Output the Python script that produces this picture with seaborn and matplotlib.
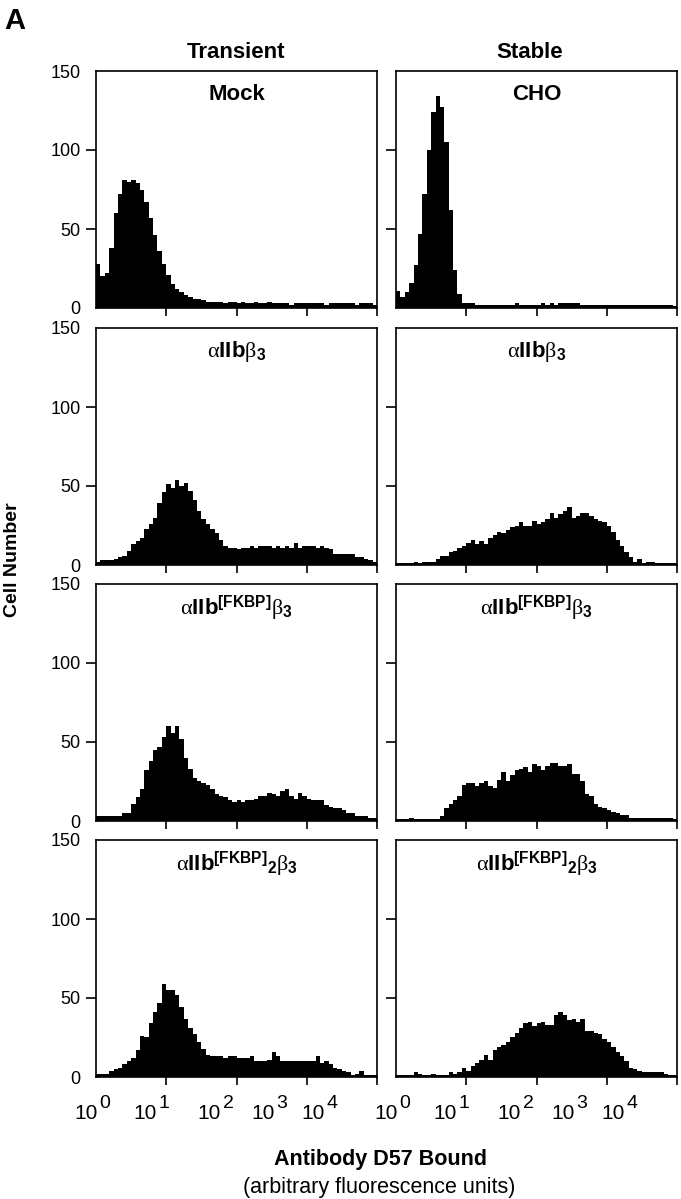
import numpy as np
import pandas as pd
import matplotlib
matplotlib.use("Agg")
import matplotlib.pyplot as plt
import seaborn as sns

# ---- data: cell counts per channel, 64 log-spaced channels over 10^0..10^4 ----
mock_transient = [28, 20, 22, 38, 60, 72, 81, 80, 81, 79,
                  75, 67, 57, 46, 36, 28, 21, 15, 12, 10,
                  8, 7, 6, 6, 5, 4, 4, 4, 4, 3,
                  4, 4, 3, 4, 3, 3, 4, 3, 3, 4,
                  3, 3, 3, 3, 2, 3, 3, 3, 3, 3,
                  3, 3, 2, 3, 3, 3, 3, 3, 3, 2,
                  3, 3, 3, 2]
cho_stable = [11, 7, 10, 16, 27, 47, 72, 100, 124, 134,
              127, 105, 62, 24, 9, 3, 3, 3, 2, 2,
              2, 2, 2, 2, 2, 2, 2, 3, 2, 2,
              2, 2, 2, 3, 2, 3, 2, 3, 3, 3,
              3, 3, 2, 2, 2, 2, 2, 2, 2, 2,
              2, 2, 2, 2, 2, 2, 2, 2, 2, 2,
              2, 2, 2, 1]
a2b3_transient = [2, 3, 3, 3, 4, 5, 6, 9, 13, 15,
                  17, 23, 26, 30, 39, 46, 51, 49, 54, 50,
                  52, 47, 41, 34, 29, 26, 23, 20, 16, 12,
                  11, 11, 10, 11, 11, 12, 11, 12, 12, 12,
                  11, 12, 11, 12, 11, 14, 11, 12, 12, 12,
                  11, 12, 11, 10, 7, 7, 7, 7, 7, 5,
                  5, 4, 3, 2]
a2b3_stable = [1, 1, 1, 1, 2, 1, 2, 2, 2, 4,
               6, 6, 8, 9, 11, 12, 14, 16, 13, 15,
               13, 17, 19, 21, 20, 22, 24, 25, 27, 25,
               25, 28, 26, 27, 29, 33, 30, 32, 34, 37,
               30, 31, 33, 33, 31, 29, 28, 27, 25, 21,
               16, 12, 8, 5, 2, 4, 1, 2, 2, 1,
               1, 1, 1, 1]
fkbp_transient = [3, 3, 3, 3, 3, 3, 5, 5, 11, 15,
                  20, 32, 38, 45, 47, 53, 60, 56, 60, 52,
                  40, 33, 27, 25, 24, 23, 20, 17, 16, 15,
                  13, 12, 13, 12, 13, 13, 14, 16, 16, 18,
                  17, 16, 19, 20, 16, 14, 18, 16, 14, 13,
                  13, 13, 10, 9, 8, 8, 7, 5, 5, 3,
                  3, 3, 2, 2]
fkbp_stable = [1, 1, 1, 2, 1, 1, 1, 1, 1, 1,
               3, 8, 11, 13, 16, 23, 24, 24, 22, 24,
               25, 22, 21, 26, 31, 25, 29, 32, 33, 34,
               31, 36, 35, 32, 35, 37, 37, 35, 35, 36,
               30, 30, 25, 17, 16, 11, 9, 8, 7, 6,
               5, 4, 4, 2, 2, 2, 2, 2, 2, 2,
               2, 2, 2, 1]
fkbp2_transient = [2, 2, 2, 4, 5, 6, 8, 10, 12, 17,
                   26, 25, 34, 41, 47, 59, 55, 55, 52, 44,
                   37, 31, 27, 22, 18, 14, 13, 13, 13, 12,
                   13, 13, 12, 12, 12, 13, 10, 10, 10, 11,
                   16, 13, 10, 10, 10, 10, 10, 10, 10, 10,
                   13, 9, 10, 8, 6, 5, 4, 3, 1, 2,
                   4, 1, 1, 1]
fkbp2_stable = [1, 1, 1, 1, 3, 2, 1, 1, 2, 1,
                1, 1, 3, 2, 3, 6, 4, 7, 9, 11,
                14, 11, 17, 19, 20, 22, 25, 28, 31, 34,
                35, 32, 34, 35, 33, 33, 39, 41, 39, 36,
                37, 35, 37, 29, 29, 28, 27, 24, 22, 19,
                16, 13, 10, 6, 5, 4, 3, 3, 3, 3,
                3, 2, 1, 1]

column_titles = ["Transient", "Stable"]
panel_titles = [
    ["Mock", "CHO"],
    [r"$\mathrm{\alpha}\mathbf{IIb}\mathrm{\beta}_{\mathbf{3}}$"] * 2,
    [r"$\mathrm{\alpha}\mathbf{IIb}^{\mathbf{[FKBP]}}\mathrm{\beta}_{\mathbf{3}}$"] * 2,
    [r"$\mathrm{\alpha}\mathbf{IIb}^{\mathbf{[FKBP]}}{}_{\mathbf{2}}\mathrm{\beta}_{\mathbf{3}}$"] * 2,
]
panel_data = [
    [mock_transient, cho_stable],
    [a2b3_transient, a2b3_stable],
    [fkbp_transient, fkbp_stable],
    [fkbp2_transient, fkbp2_stable],
]
y_ticks = [0, 50, 100, 150]
decades = [0, 1, 2, 3, 4]

# ---- style ----
sns.set_style("ticks")
plt.rcParams["font.family"] = ["Liberation Sans", "DejaVu Sans"]
plt.rcParams["mathtext.fontset"] = "custom"
plt.rcParams["mathtext.rm"] = "Liberation Serif"
plt.rcParams["mathtext.it"] = "Liberation Serif:italic"
plt.rcParams["mathtext.bf"] = "Liberation Sans:bold"
for key in ["text.color", "axes.labelcolor", "xtick.color", "ytick.color",
            "axes.edgecolor"]:
    plt.rcParams[key] = "black"
plt.rcParams["axes.linewidth"] = 1.2

W, H = 681, 1199
fig = plt.figure(figsize=(W / 100, H / 100), dpi=100)


def fx(px):
    return px / W


def fy(py):
    return 1 - py / H


row_tops = [71, 328, 584, 840]
col_lefts = [96, 396]
panel_w, panel_h = 281, 237
# where the decade labels sit under each bottom panel (axes fraction)
label_anchor = [0.006, 0.217, 0.445, 0.637, 0.815]

for r in range(4):
    for c in range(2):
        ax = fig.add_axes([fx(col_lefts[c]), fy(row_tops[r] + panel_h),
                           panel_w / W, panel_h / H])
        counts = np.asarray(panel_data[r][c], dtype=float)
        nbins = len(counts)
        step = (decades[-1] - decades[0]) / nbins
        df = pd.DataFrame({"channel": decades[0] + step * (np.arange(nbins) + 0.5),
                           "cells": counts})
        sns.histplot(data=df, x="channel", weights="cells", bins=nbins,
                     binrange=(decades[0], decades[-1]),
                     element="step", fill=True, color="black", alpha=1,
                     linewidth=0, ax=ax)
        ax.set_xlim(decades[0], decades[-1])
        ax.set_ylim(y_ticks[0], y_ticks[-1])
        ax.set_xlabel("")
        ax.set_ylabel("")
        for side in ["top", "right", "bottom", "left"]:
            ax.spines[side].set_visible(True)
            ax.spines[side].set_color("black")

        ax.set_xticks(decades[1:])
        ax.set_xticklabels([])
        ax.tick_params(axis="x", direction="out", length=6, width=1.2)

        if c == 0:
            ax.set_yticks(y_ticks)
            ax.set_yticklabels([str(v) for v in y_ticks], fontsize=13)
            ticks = ax.yaxis.get_major_ticks()
            ticks[0].tick1line.set_visible(False)
            ticks[-1].tick1line.set_visible(False)
        else:
            ax.set_yticks(y_ticks[1:-1])
            ax.set_yticklabels([])
        ax.tick_params(axis="y", direction="out", length=7, width=1.2, pad=4)

        ax.text(0.5, 0.9, panel_titles[r][c], transform=ax.transAxes,
                ha="center", va="center", fontsize=16, fontweight="bold")

        if r == 3:
            for d, a in zip(decades, label_anchor):
                ax.text(a, -0.152, "10", transform=ax.transAxes,
                        ha="right", va="center", fontsize=15)
                ax.text(a + 0.006, -0.113, str(d), transform=ax.transAxes,
                        ha="left", va="center", fontsize=14)

fig.text(fx(236), fy(53), column_titles[0], ha="center", va="center",
         fontsize=16, fontweight="bold")
fig.text(fx(530), fy(53), column_titles[1], ha="center", va="center",
         fontsize=16, fontweight="bold")
fig.text(fx(4), fy(7), "A", ha="left", va="top", fontsize=21, fontweight="bold")
fig.text(fx(13), fy(560), "Cell Number", ha="center", va="center",
         rotation=90, fontsize=14, fontweight="bold")
fig.text(fx(380), fy(1160), "Antibody D57 Bound", ha="center", va="center",
         fontsize=15.5, fontweight="bold")
fig.text(fx(379), fy(1187), "(arbitrary fluorescence units)", ha="center",
         va="center", fontsize=15.5)

fig.savefig("out.png", dpi=100, facecolor="white")
